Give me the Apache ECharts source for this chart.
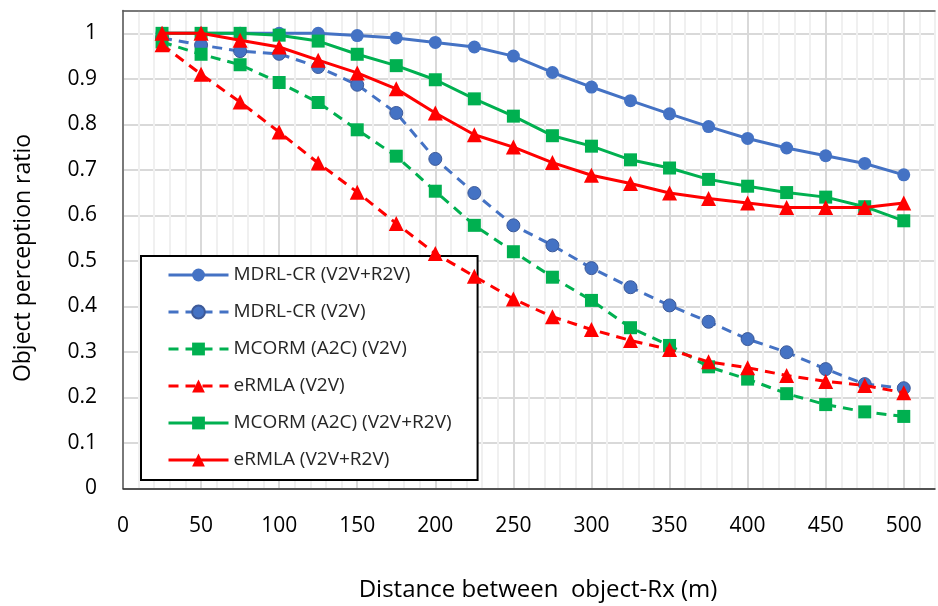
<!DOCTYPE html>
<html>
<head>
<meta charset="utf-8">
<script src="https://cdn.jsdelivr.net/npm/echarts@6/dist/echarts.min.js"></script>
<style>
  html, body { margin: 0; padding: 0; background: #fff; }
  #main { width: 938px; height: 606px; }
</style>
</head>
<body>
<div id="main"></div>
<script>
// distances (m)
var distance = [25, 50, 75, 100, 125, 150, 175, 200, 225, 250, 275, 300, 325, 350, 375, 400, 425, 450, 475, 500]

// values
var mdrlBoth = [1.0, 1.0, 1.0, 1.0, 1.0, 0.995, 0.99, 0.98, 0.97, 0.95, 0.914, 0.882, 0.852, 0.823, 0.795, 0.769, 0.748, 0.731, 0.714, 0.689]
var mdrlV2V = [0.99, 0.974, 0.961, 0.955, 0.926, 0.887, 0.825, 0.724, 0.649, 0.578, 0.534, 0.484, 0.442, 0.402, 0.366, 0.328, 0.299, 0.262, 0.229, 0.22]
var mcormV2V = [0.981, 0.954, 0.931, 0.892, 0.848, 0.788, 0.73, 0.653, 0.578, 0.52, 0.464, 0.413, 0.353, 0.314, 0.267, 0.24, 0.208, 0.184, 0.168, 0.158]
var ermlaV2V = [0.975, 0.91, 0.849, 0.783, 0.715, 0.651, 0.582, 0.516, 0.466, 0.416, 0.377, 0.349, 0.325, 0.305, 0.278, 0.265, 0.248, 0.235, 0.226, 0.21]
var mcormBoth = [1.0, 1.0, 1.0, 0.996, 0.983, 0.954, 0.929, 0.898, 0.856, 0.818, 0.775, 0.752, 0.722, 0.704, 0.679, 0.664, 0.65, 0.64, 0.619, 0.588]
var ermlaBoth = [1.0, 1.0, 0.985, 0.97, 0.941, 0.913, 0.878, 0.825, 0.777, 0.75, 0.716, 0.688, 0.67, 0.649, 0.637, 0.627, 0.617, 0.617, 0.617, 0.627]

var legendNames = ['MDRL-CR (V2V+R2V)', 'MDRL-CR (V2V)', 'MCORM (A2C) (V2V)', 'eRMLA (V2V)', 'MCORM (A2C) (V2V+R2V)', 'eRMLA (V2V+R2V)']

var BLUE = '#4472C4'
var GREEN = '#00B050'
var RED = '#FF0000'
var FONT = 'Open Sans'

function pairs(ys) {
  return distance.map(function (x, i) { return [x, ys[i]] })
}

function makeSeries(name, ys, color, symbol, size, dashed, z) {
  return {
    name: name,
    type: 'line',
    data: pairs(ys),
    symbol: symbol,
    symbolSize: size,
    z: z,
    lineStyle: { color: color, width: 3, type: dashed ? [10, 7] : 'solid' },
    itemStyle: {
      color: color,
      borderColor: dashed && symbol === 'circle' ? '#3d5a99' : color,
      borderWidth: dashed && symbol === 'circle' ? 1 : 0
    }
  }
}

var myChart = echarts.init(document.getElementById('main'))

var option = {
  animation: false,
  backgroundColor: '#fff',
  grid: {
    left: 123,
    top: 10.6,
    right: 0,
    bottom: 117.7
  },
  // axis titles
  graphic: [
    {
      type: 'text',
      x: 23,
      y: 258,
      rotation: Math.PI / 2,
      style: {
        text: 'Object perception ratio',
        font: '23px "Open Sans"',
        fill: '#000',
        align: 'center',
        verticalAlign: 'middle'
      }
    },
    {
      type: 'text',
      x: 538,
      y: 590,
      style: {
        text: 'Distance between  object-Rx (m)',
        font: '24px "Open Sans"',
        fill: '#000',
        align: 'center',
        verticalAlign: 'middle'
      }
    }
  ],
  legend: {
    data: legendNames,
    orient: 'vertical',
    left: 141,
    top: 256,
    backgroundColor: '#fff',
    borderColor: '#000',
    borderWidth: 2,
    padding: [9, 26, 10, 26],
    itemWidth: 60,
    itemHeight: 16,
    itemGap: 17,
    lineStyle: { width: 3 },
    textStyle: { fontFamily: FONT, fontSize: 19, color: '#262626', lineHeight: 20 }
  },
  xAxis: [
    {
      type: 'value',
      min: 0,
      max: 520,
      interval: 10,
      axisLine: { show: true, lineStyle: { color: '#262626', width: 1.5 } },
      axisTick: { show: false },
      axisLabel: {
        margin: 27,
        fontFamily: FONT,
        fontSize: 21,
        color: '#000',
        formatter: function (v) { return v % 50 === 0 && v <= 500 ? String(v) : '' }
      },
      splitLine: {
        show: true,
        lineStyle: { color: ['#d9d9d9', '#f0f0f0', '#f0f0f0', '#f0f0f0', '#f0f0f0'], width: 2 }
      }
    },
    {
      // top frame line
      type: 'value',
      position: 'top',
      min: 0,
      max: 520,
      axisLine: { show: true, lineStyle: { color: '#595959', width: 1.5 } },
      axisTick: { show: false },
      axisLabel: { show: false },
      splitLine: { show: false }
    }
  ],
  yAxis: {
    type: 'value',
    min: 0,
    max: 1.05,
    interval: 0.1,
    axisLine: { show: true, lineStyle: { color: '#595959', width: 1.5 } },
    axisTick: { show: false },
    axisLabel: {
      margin: 26,
      fontFamily: FONT,
      fontSize: 21,
      color: '#000',
      formatter: function (v) {
        if (v > 1.001) return ''
        return String(Math.round(v * 10) / 10)
      }
    },
    splitLine: { show: true, lineStyle: { color: '#d9d9d9', width: 2 } }
  },
  series: [
    makeSeries(legendNames[1], mdrlV2V, BLUE, 'circle', 13, true, 2),
    makeSeries(legendNames[2], mcormV2V, GREEN, 'rect', 13, true, 3),
    makeSeries(legendNames[3], ermlaV2V, RED, 'triangle', 15, true, 4),
    makeSeries(legendNames[0], mdrlBoth, BLUE, 'circle', 13, false, 5),
    makeSeries(legendNames[4], mcormBoth, GREEN, 'rect', 13, false, 6),
    makeSeries(legendNames[5], ermlaBoth, RED, 'triangle', 15, false, 7)
  ]
}

myChart.setOption(option)
</script>
</body>
</html>
